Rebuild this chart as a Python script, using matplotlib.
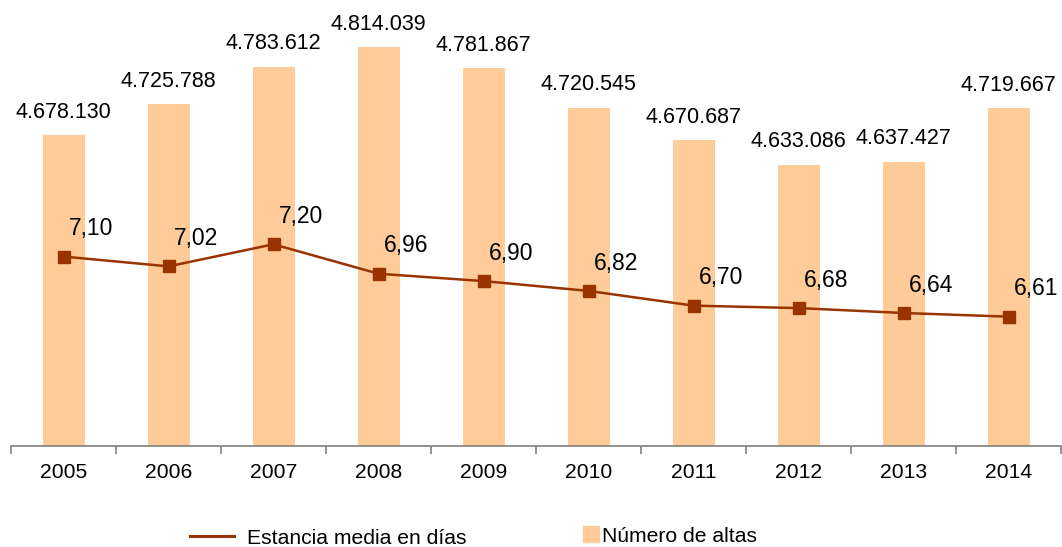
import matplotlib.pyplot as plt
import matplotlib.patches as mpatches
from matplotlib.lines import Line2D
import numpy as np

plt.rcParams['font.family'] = ['Liberation Sans', 'DejaVu Sans']

years = ['2005', '2006', '2007', '2008', '2009', '2010', '2011', '2012', '2013', '2014']
altas = [4678130, 4725788, 4783612, 4814039, 4781867, 4720545, 4670687, 4633086, 4637427, 4719667]
estancia = [7.10, 7.02, 7.20, 6.96, 6.90, 6.82, 6.70, 6.68, 6.64, 6.61]

BAR_COLOR = '#FFCC99'
LINE_COLOR = '#993300'


def fmt_es(v, dec=0):
    if dec == 0:
        return '{:,}'.format(v).replace(',', '.')
    return '{:.{}f}'.format(v, dec).replace('.', ',')


fig = plt.figure(figsize=(10.62, 5.47), dpi=100)
W, H = 1062, 547
# plot area in pixels: x 11..1061, y 20..446
ax = fig.add_axes([11 / W, 1 - 446 / H, 1050 / W, 426 / H])
ax2 = ax.twinx()

x = np.arange(len(years))
ax.bar(x, altas, width=0.4, color=BAR_COLOR, zorder=1)
ax.set_xlim(-0.5, len(years) - 0.5)
ax.set_ylim(4200000, 4200000 + 426 * 1539)

for xi, v in zip(x, altas):
    ax.annotate(fmt_es(v), (xi, v), xytext=(0, 16.5), textcoords='offset points',
                ha='center', va='center', fontsize=15.5)

ax2.plot(x, estancia, color=LINE_COLOR, lw=1.8, marker='s', markersize=8.5,
         markerfacecolor=LINE_COLOR, markeredgecolor=LINE_COLOR, zorder=3)
ax2.set_ylim(5.556, 5.556 + 426 / 122.7)
for xi, v in zip(x, estancia):
    ax2.annotate(fmt_es(v, 2), (xi, v), xytext=(4, 20), textcoords='offset points',
                 ha='left', va='center', fontsize=16.5)

for a in (ax, ax2):
    for s in ('top', 'right', 'left'):
        a.spines[s].set_visible(False)
    a.set_yticks([])
ax2.spines['bottom'].set_visible(False)
ax.spines['bottom'].set_color('#808080')
ax.spines['bottom'].set_linewidth(1.2)

ax.set_xticks(x)
ax.set_xticklabels(years, fontsize=15.2)
ax.tick_params(axis='x', which='major', length=0, pad=12)
ax.set_xticks(np.arange(len(years) + 1) - 0.5, minor=True)
ax.tick_params(axis='x', which='minor', length=6, width=1.2, color='#808080')

line_handle = Line2D([], [], color=LINE_COLOR, lw=2.2)
fig.legend(handles=[line_handle], labels=['Estancia media en días'], loc='center left',
           bbox_to_anchor=(190 / W, 1 - 538 / H), frameon=False, fontsize=15.2,
           handlelength=2.07, handletextpad=0.65, borderpad=0, borderaxespad=0)
bar_handle = mpatches.Patch(color=BAR_COLOR)
fig.legend(handles=[bar_handle], labels=['Número de altas'], loc='center left',
           bbox_to_anchor=(583 / W, 1 - 536 / H), frameon=False, fontsize=15.2,
           handlelength=0.77, handleheight=0.77, handletextpad=0.15, borderpad=0, borderaxespad=0)

fig.savefig('out.png', dpi=100)
